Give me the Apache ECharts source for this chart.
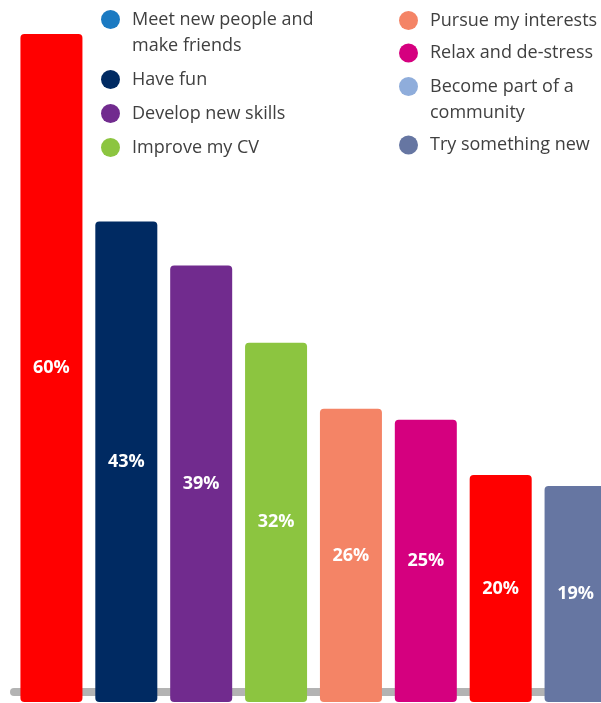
<!DOCTYPE html>
<html>
<head>
<meta charset="utf-8">
<script src="https://cdn.jsdelivr.net/npm/echarts@6/dist/echarts.min.js"></script>
<style>
  html, body { margin: 0; padding: 0; background: #fff; }
  #chart { width: 601px; height: 703px; }
</style>
</head>
<body>
<div id="chart"></div>
<script>
// reasons, as written in the legend (one entry per line of text)
const reasonLines = [
  ['Meet new people and', 'make friends'],
  ['Have fun'],
  ['Develop new skills'],
  ['Improve my CV'],
  ['Pursue my interests'],
  ['Relax and de-stress'],
  ['Become part of a', 'community'],
  ['Try something new']
];
const reasons = reasonLines.map(l => l.join(' '));
const percents = [60, 43, 39, 32, 26, 25, 20, 19];

const barColors = ['#ff0000', '#002a62', '#712b8e', '#8cc540', '#f48466', '#d5007f', '#ff0000', '#6676a2'];
const legendColors = ['#1b7ac2', '#002a62', '#712b8e', '#8cc540', '#f48466', '#d5007f', '#8faddb', '#6676a2'];

const font = 'Open Sans';

// icon sits on the first line, so multi-line entries get an empty line on top
function legendText(name) {
  const lines = reasonLines[reasons.indexOf(name)];
  return lines.length > 1 ? '\n' + lines.join('\n') : lines[0];
}

function legendBlock(idx, left, top, gap) {
  return {
    orient: 'vertical',
    left: left,
    top: top,
    padding: 0,
    itemGap: gap,
    itemWidth: 33,
    itemHeight: 19,
    icon: 'circle',
    selectedMode: false,
    formatter: legendText,
    textStyle: { fontFamily: font, fontSize: 18, lineHeight: 26, color: '#404040' },
    data: idx.map(i => ({ name: reasons[i], itemStyle: { color: legendColors[i] } }))
  };
}

// one series per reason so each gets its own legend entry; they overlap in place
const series = reasons.map((name, i) => ({
  name: name,
  type: 'bar',
  barGap: '-100%',
  barWidth: 62,
  data: percents.map((v, j) => (j === i ? v : '-')),
  itemStyle: { color: barColors[i], borderRadius: 4 },
  label: {
    show: true,
    position: 'inside',
    formatter: '{c}%',
    color: '#fff',
    fontFamily: font,
    fontWeight: 'bold',
    fontSize: 18
  }
}));

const chart = echarts.init(document.getElementById('chart'));
chart.setOption({
  animation: false,
  legend: [
    legendBlock([0, 1, 2, 3], 101, -19.5, 8),
    legendBlock([4, 5], 399, 7.5, 6.5),
    legendBlock([6, 7], 399, 47.5, 6.5)
  ],
  grid: { left: 14, width: 599, top: 34, bottom: 1, outerBoundsMode: 'none' },
  xAxis: {
    type: 'category',
    data: reasons,
    offset: -10,
    axisLine: { show: true, onZero: false, lineStyle: { color: '#b3b3b3', width: 8 } },
    axisTick: { show: false },
    axisLabel: { show: false }
  },
  yAxis: {
    type: 'value',
    min: -0.6,
    max: 60,
    startValue: -0.6,
    show: false,
    splitLine: { show: false }
  },
  series: series
});
</script>
</body>
</html>
